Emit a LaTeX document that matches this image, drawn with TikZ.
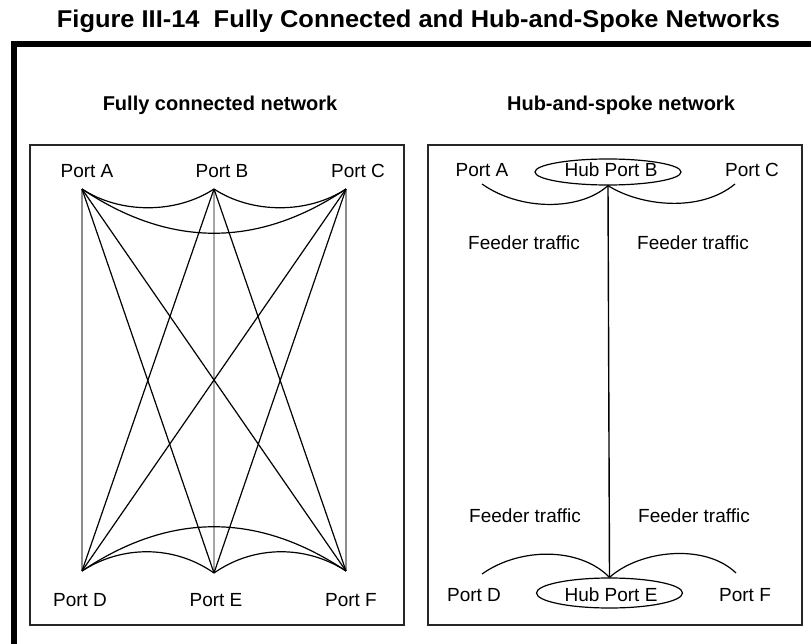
\documentclass[tikz,border=0pt]{standalone}
\usepackage{graphicx}
\usepackage{fontspec}
\setmainfont{Liberation Sans}
\usetikzlibrary{shapes.geometric}
\begin{document}
\begin{tikzpicture}[x=1pt,y=-1pt,
  lbl/.style={inner sep=0pt,anchor=base,font=\fontsize{19}{22}\selectfont},
  heading/.style={inner sep=0pt,anchor=base,font=\fontsize{20}{24}\selectfont\bfseries},
  panel/.style={draw=black!85,line width=1.5pt},
  link/.style={draw=black,line width=1.2pt},
  directlink/.style={draw=black!45,line width=1.3pt},
  hubring/.style={draw=black,line width=1.2pt,ellipse,inner sep=0pt,minimum width=146pt},
  trunk/.style={draw=black,line width=1.4pt}]
\useasboundingbox (0,0) rectangle (811,644);
\fill[white] (0,0) rectangle (811,644);

% title and outer frame
\node[inner sep=0pt,anchor=base] (title) at (418.5,28)
  {\resizebox{723pt}{17.6pt}{\bfseries Figure III-14\ \ Fully Connected and Hub-and-Spoke Networks}};
\draw[line width=6pt] (13.5,644) -- (13.5,44) -- (811,44);

% panel frames
\draw[panel] (30,145) rectangle (404,625);
\draw[panel] (428,145) rectangle (802,625);
\node[heading] (h1) at (220,111) {Fully connected network};
\node[heading] (h2) at (621,111) {Hub-and-spoke network};

% ---- fully connected network ----
\coordinate (pA) at (82,189);
\coordinate (pB) at (214,189);
\coordinate (pC) at (346,189);
\coordinate (pD) at (82,571);
\coordinate (pE) at (214,573);
\coordinate (pF) at (346,571);
\node[lbl] (lA) at (87,178) {Port A};
\node[lbl] (lB) at (222,178) {Port B};
\node[lbl] (lC) at (358,178) {Port C};
\node[lbl] (lD) at (80,606) {Port D};
\node[lbl] (lE) at (216,606) {Port E};
\node[lbl] (lF) at (351,606) {Port F};

% vertical links
\draw[directlink] (pA) -- (pD);
\draw[directlink] (pC) -- (pF);
\draw[draw=black!35,line width=2.8pt] (pB) -- (pE);
% crossing links
\draw[link] (pA) -- (pE);
\draw[link] (pA) -- (pF);
\draw[link] (pB) -- (pD);
\draw[link] (pB) -- (pF);
\draw[link] (pC) -- (pD);
\draw[link] (pC) -- (pE);
% links along the top and bottom rows
\draw[link] (pA) .. controls (120,214) and (176,214) .. (pB);
\draw[link] (pB) .. controls (252,214) and (308,214) .. (pC);
\draw[link] (pA) .. controls (170,248) and (258,248) .. (pC);
\draw[link] (pD) .. controls (122,545) and (174,545) .. (pE);
\draw[link] (pE) .. controls (254,545) and (306,545) .. (pF);
\draw[link] (pD) .. controls (170,512) and (258,512) .. (pF);

% ---- hub-and-spoke network ----
\node[hubring,minimum height=26pt] (hubB) at (608,172) {};
\node[hubring,minimum height=30pt] (hubE) at (609.5,593) {};
\node[lbl] (tB) at (611,177) {Hub Port B};
\node[lbl] (tE) at (611,601) {Hub Port E};
\node[lbl] (rA) at (482,177) {Port A};
\node[lbl] (rC) at (752,177) {Port C};
\node[lbl] (rD) at (474,601) {Port D};
\node[lbl] (rF) at (745,601) {Port F};
\node[lbl] (f1) at (524,250) {Feeder traffic};
\node[lbl] (f2) at (693,250) {Feeder traffic};
\node[lbl] (f3) at (525,522) {Feeder traffic};
\node[lbl] (f4) at (694,522) {Feeder traffic};

\coordinate (sA) at (482,184);
\coordinate (sC) at (735,184);
\coordinate (sD) at (482,574);
\coordinate (sF) at (736,573);
\draw[trunk] (hubB.south) -- (hubE.north);
\draw[link] (sA) .. controls (520,211) and (580,211) .. (hubB.south);
\draw[link] (hubB.south) .. controls (640,206) and (700,213) .. (sC);
\draw[link] (sD) .. controls (520,547) and (580,547) .. (hubE.north);
\draw[link] (hubE.north) .. controls (640,550) and (705,543) .. (sF);
\end{tikzpicture}
\end{document}
